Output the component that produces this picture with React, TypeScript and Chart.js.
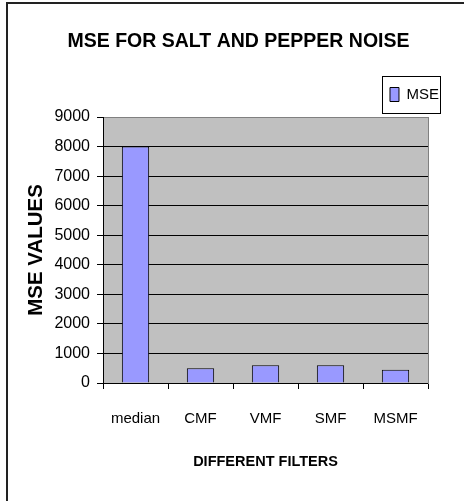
import React, { useEffect, useRef } from "react";
import { Chart, registerables } from "chart.js";

Chart.register(...registerables);

const categories = ["median", "CMF", "VMF", "SMF", "MSMF"];
const mseValues = [8000, 500, 600, 600, 450];
const seriesLabel = "MSE";
const chartTitle = "MSE FOR SALT AND PEPPER NOISE";
const yTitle = "MSE VALUES";
const xTitle = "DIFFERENT FILTERS";
const yMin = 0;
const yMax = 9000;
const yStep = 1000;

const FONT = "'Liberation Sans', Arial, sans-serif";

const plotBackground = {
  id: "plotBackground",
  beforeDraw(chart: any) {
    const { ctx, chartArea } = chart;
    if (!chartArea) return;
    ctx.save();
    ctx.fillStyle = "#C0C0C0";
    ctx.fillRect(chartArea.left, chartArea.top, chartArea.right - chartArea.left, chartArea.bottom - chartArea.top);
    ctx.restore();
  },
};

const legendFrame = {
  id: "legendFrame",
  afterDraw(chart: any) {
    const legend = chart.legend;
    if (!legend || !legend.legendHitBoxes || !legend.legendHitBoxes.length) return;
    const hb = legend.legendHitBoxes[0];
    const { ctx } = chart;
    ctx.save();
    ctx.strokeStyle = "#000";
    ctx.lineWidth = 1;
    const l = Math.round(hb.left - 7.5) + 0.5;
    const t = Math.round(hb.top - 11) + 0.5;
    const r = Math.round(hb.left + hb.width + 1) + 0.5;
    const b = Math.round(hb.top + hb.height + 11) + 0.5;
    ctx.strokeRect(l, t, r - l, b - t);
    ctx.restore();
  },
};

export default function App() {
  const canvasRef = useRef<HTMLCanvasElement | null>(null);

  useEffect(() => {
    if (!canvasRef.current) return;
    Chart.defaults.color = "#000";
    const chart = new Chart(canvasRef.current, {
      type: "bar",
      data: {
        labels: categories,
        datasets: [
          {
            label: seriesLabel,
            data: mseValues,
            backgroundColor: "#9999FF",
            borderColor: "#000",
            borderWidth: 1,
            categoryPercentage: 1,
            barPercentage: 0.42,
          },
        ],
      },
      options: {
        responsive: false,
        animation: false,
        devicePixelRatio: 1,
        layout: { padding: { left: 13, right: 0, top: 0, bottom: 0 } },
        plugins: {
          title: {
            display: true,
            text: chartTitle,
            color: "#000",
            font: { family: FONT, size: 19.5, weight: "bold" },
            padding: { top: 30.3, bottom: 8.3 },
          },
          legend: {
            display: true,
            position: "top",
            align: "end",
            labels: {
              boxWidth: 9,
              boxHeight: 14,
              padding: 25,
              color: "#000",
              font: { family: FONT, size: 15 },
            },
          },
          tooltip: { enabled: false },
        },
        scales: {
          x: {
            type: "category",
            grid: {
              display: true,
              offset: true,
              drawOnChartArea: false,
              drawTicks: true,
              tickLength: 6,
              tickColor: "#000",
              color: "#000",
            },
            border: { display: true, color: "#000", width: 1 },
            ticks: {
              color: "#000",
              padding: 21,
              maxRotation: 0,
              minRotation: 0,
              autoSkip: false,
              font: { family: FONT, size: 15 },
            },
            title: {
              display: true,
              text: xTitle,
              color: "#000",
              font: { family: FONT, size: 14.5, weight: "bold" },
              padding: { top: 0, bottom: 30 },
            },
            afterFit(s: any) {
              s.height = 118;
            },
          },
          xTop: {
            type: "category",
            position: "top",
            display: true,
            grid: { display: false },
            border: { display: false },
            ticks: { display: false },
            afterFit(s: any) {
              s.height = 5;
            },
          },
          y: {
            type: "linear",
            position: "left",
            min: yMin,
            max: yMax,
            ticks: {
              stepSize: yStep,
              color: "#000",
              padding: 7,
              font: { family: FONT, size: 16 },
              callback: (v: any) => String(v),
            },
            grid: {
              display: true,
              drawOnChartArea: true,
              drawTicks: true,
              tickLength: 6,
              tickColor: "#000",
              color: (c: any) => (c.tick && c.tick.value === yMax ? "#808080" : "#000"),
            },
            border: { display: true, color: "#000", width: 1 },
            title: {
              display: true,
              text: yTitle,
              color: "#000",
              font: { family: FONT, size: 20.5, weight: "bold" },
              padding: { top: 11, bottom: 0 },
            },
            afterFit(s: any) {
              s.width = 90;
            },
          },
          yR: {
            type: "linear",
            position: "right",
            display: true,
            grid: { display: false },
            ticks: { display: false },
            border: { display: true, color: "#808080", width: 1 },
            afterFit(s: any) {
              s.width = 36;
            },
          },
        },
      },
      plugins: [plotBackground, legendFrame],
    } as any);
    return () => chart.destroy();
  }, []);

  return (
    <div style={{ position: "fixed", left: 0, top: 0, width: 464, height: 501, overflow: "hidden", background: "#fff" }}>
      <div
        style={{
          position: "absolute",
          left: 6,
          top: 2,
          width: 500,
          height: 520,
          borderLeft: "2px solid #222",
          borderTop: "2px solid #222",
          boxSizing: "border-box",
        }}
      />
      <canvas ref={canvasRef} width={464} height={501} style={{ position: "absolute", left: 0, top: 0, width: 464, height: 501 }} />
    </div>
  );
}
